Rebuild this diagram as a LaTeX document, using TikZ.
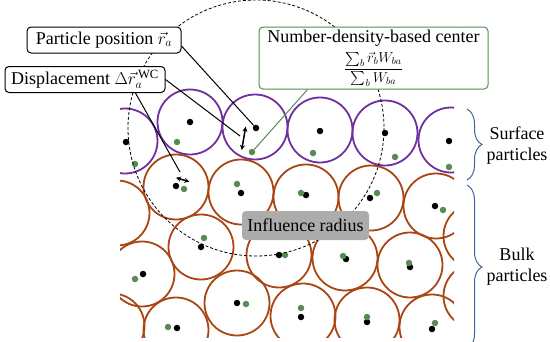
\documentclass[tikz,border=0pt]{standalone}
\usepackage{amsmath,amssymb}
\usepackage{fontspec}
\setmainfont{Liberation Serif}
\usetikzlibrary{arrows.meta,calc,decorations.pathreplacing}
\definecolor{surfcol}{RGB}{112,48,160}
\definecolor{bulkcol}{RGB}{170,70,20}
\definecolor{ctrcol}{RGB}{84,140,84}
\definecolor{bracecol}{RGB}{65,100,160}
\definecolor{shade}{RGB}{172,172,172}
\tikzset{labelbox/.style={draw,rounded corners=4pt,fill=white,line width=1pt,inner xsep=3pt,inner ysep=2pt,minimum height=26pt},
 particle/.style={line width=1.8pt},
 pdot/.style={circle,fill=black,inner sep=0pt,minimum size=6.5pt},
 cdot/.style={circle,fill=ctrcol,inner sep=0pt,minimum size=6.5pt},
 disparrow/.style={{Stealth[length=5pt,width=5pt]}-{Stealth[length=5pt,width=5pt]},line width=1.5pt},
 pointer/.style={line width=1pt},
 influence/.style={dashed,dash pattern=on 3pt off 2pt,line width=0.8pt},
 grpbrace/.style={decorate,decoration={brace,amplitude=15pt},bracecol,line width=1pt},
 every node/.style={font=\fontsize{18}{21}\selectfont}}

\begin{document}
\begin{tikzpicture}[x=1pt,y=-1pt]
\useasboundingbox (0,0) rectangle (550,341);
\begin{scope}
\clip (120,0) rectangle (454,337);
\foreach \x/\y in {125/141,190/122,255/127,320/130,385/133,451/140}
 \draw[particle,surfcol] (\x,\y) circle (32.5);
\foreach \x/\y in {117/213,176/187,241/192,306/197,371/198,436/206,
 142/274,201/247,279/255,345/258,410/265,476/236,476/296,
 112/326,176/330,237/303,303/316,367/320,432/327}
 \draw[particle,bulkcol] (\x,\y) circle (32.5);
% particle position (black) and number-density-based center (green)
\foreach \bx/\by/\gx/\gy [count=\i] in {126/142/135/164,190/122/177/142,256/128/252/152,
 320/131/313/153,385/133/395/157,449/141/449/167,
 176/186/184/189,241/193/237/184,306/195/301/193,370/198/377/193,435/206/443/210,
 143/274/135/279,201/247/204/238,279/255/285/255,346/259/343/256,410/267/409/263,
 177/328/168/327,237/303/246/304,301/317/301/308,367/322/367/317,432/329/435/323} {
 \node[pdot] (p\i) at (\bx,\by) {};
 \node[cdot] (c\i) at (\gx,\gy) {};
}
\end{scope}
\draw[influence] (p3.center) circle (128);

% displacement arrows
\coordinate (a1) at (245.7,126.7);
\coordinate (a2) at (241.7,150);
\coordinate (b1) at (176,177.7);
\coordinate (b2) at (189.3,181.7);
\draw[disparrow] (a1)--(a2);
\draw[disparrow] (b1)--(b2);
\coordinate (da) at (240,136);
\coordinate (db) at (180,172);

\node[labelbox,minimum width=154pt] (pos) at (104,40) {Particle position $\vec{r}_a$};
\node[labelbox,minimum width=160pt] (dsp) at (85,79.5) {Displacement $\Delta\vec{r}_a^{\,\mathrm{WC}}$};
\node[labelbox,draw=ctrcol,align=center,minimum width=229pt,minimum height=62pt,inner ysep=0pt] (ctr) at (373.5,58)
 {Number-density-based center\\[5pt]
 \fontsize{14}{16}\selectfont $\dfrac{\sum\nolimits_b \vec{r}_b W_{ba}}{\sum\nolimits_b W_{ba}}$};
\node[fill=shade,rounded corners=4pt,minimum width=127pt,minimum height=29pt] (infl) at (305.5,225.5) {Influence radius};

\draw[pointer] ([yshift=-6pt]pos.east)--(p3);
\draw[pointer] (dsp.east)--(da);
\draw[pointer] ([xshift=-30pt]dsp.south east)--(db);
\draw[pointer,ctrcol] ([xshift=49pt]ctr.south west)--(c3);

\begin{scope}
\clip (0,0) rectangle (550,341);
\draw[grpbrace] (467,109)--(467,180);
\draw[grpbrace] (467,185)--(467,349);
\end{scope}
\node[align=center] (surf) at (517,146) {Surface\\particles};
\node[align=center] (bulk) at (517,267) {Bulk\\particles};
\end{tikzpicture}
\end{document}
